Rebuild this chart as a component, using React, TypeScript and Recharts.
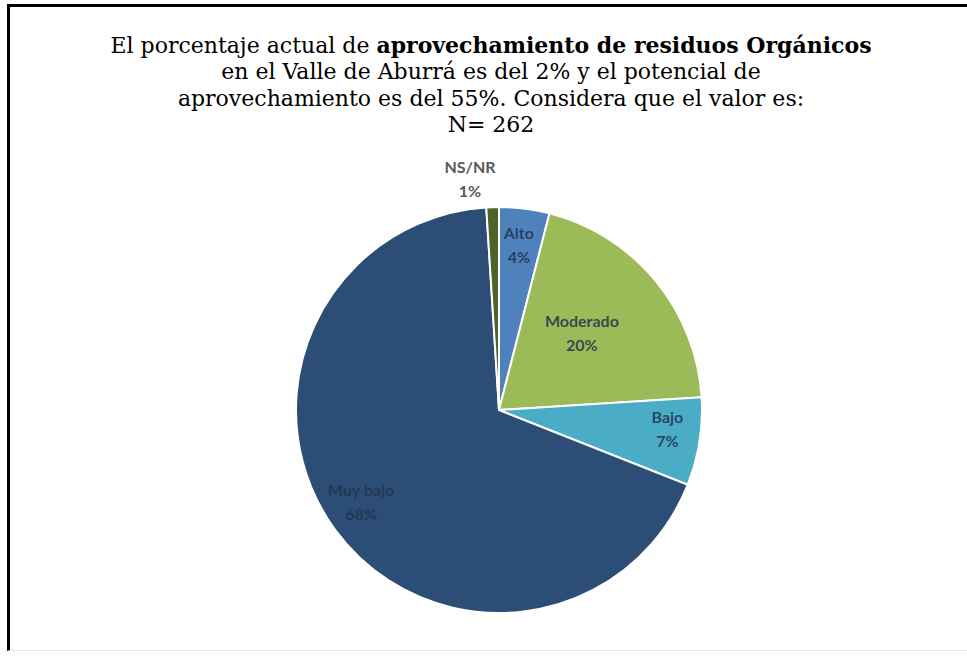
import { PieChart, Pie, Cell } from "recharts";

const categories = ["Alto", "Moderado", "Bajo", "Muy bajo", "NS/NR"];
const percentages = [4, 20, 7, 68, 1];
const colors = ["#4F81BD", "#9BBB59", "#4BACC6", "#2C4D75", "#4F6228"];

const titleLines = [
  ["El porcentaje actual de ", "aprovechamiento de residuos Orgánicos"],
  ["en el Valle de Aburrá es del 2% y el potencial de", ""],
  ["aprovechamiento es del 55%. Considera que el valor es:", ""],
  ["N= 262", ""],
];

const data = categories.map((name, i) => ({ name, value: percentages[i] }));

const RADIAN = Math.PI / 180;
// distance of each label from the centre, as a share of the radius
const labelDist: Record<string, number> = {
  Alto: 0.78,
  Moderado: 0.53,
  Bajo: 0.84,
  "Muy bajo": 0.84,
  "NS/NR": 1.1,
};
// sideways nudge for the outside label
const labelShiftX: Record<string, number> = { "NS/NR": -22 };

const renderLabel = (props: any) => {
  const { cx, cy, midAngle, outerRadius, name, value } = props;
  const r = outerRadius * (labelDist[name] ?? 0.7);
  const x = cx + r * Math.cos(-midAngle * RADIAN) + (labelShiftX[name] ?? 0);
  const y = cy + r * Math.sin(-midAngle * RADIAN);
  const outside = name === "NS/NR";
  return (
    <text
      x={x}
      y={y}
      textAnchor="middle"
      fontFamily="Lato, 'Open Sans', sans-serif"
      fontWeight={700}
      fontSize={16}
      fill={outside ? "#595959" : "#1F3550"}
      fillOpacity={outside ? 1 : 0.85}
    >
      <tspan x={x} dy={-14}>
        {name}
      </tspan>
      <tspan x={x} dy={24}>
        {value}%
      </tspan>
    </text>
  );
};

export default function App() {
  return (
    <div
      style={{
        position: "absolute",
        left: 0,
        top: 0,
        width: 967,
        height: 660,
        background: "#fff",
      }}
    >
      <div
        style={{
          position: "absolute",
          left: 7,
          top: 4,
          right: 0,
          bottom: 9,
          borderTop: "3px solid #000",
          borderLeft: "3px solid #000",
          borderBottom: "1px solid #e6e6e6",
        }}
      />
      <div
        style={{
          position: "absolute",
          left: 0,
          top: 32,
          width: 982,
          textAlign: "center",
          fontFamily: "'DejaVu Serif', 'Liberation Serif', serif",
          fontSize: 22,
          lineHeight: "26.3px",
          color: "#000",
        }}
      >
        {titleLines.map(([plain, bold], i) => (
          <div key={i}>
            {plain}
            {bold && <b>{bold}</b>}
          </div>
        ))}
      </div>
      <PieChart width={967} height={660} style={{ position: "absolute", left: 0, top: 0 }}>
        <Pie
          data={data}
          dataKey="value"
          nameKey="name"
          cx={494}
          cy={405}
          outerRadius={203}
          startAngle={90}
          endAngle={-270}
          stroke="#fff"
          strokeWidth={2}
          label={renderLabel}
          labelLine={false}
          isAnimationActive={false}
        >
          {data.map((d, i) => (
            <Cell key={d.name} fill={colors[i]} />
          ))}
        </Pie>
      </PieChart>
    </div>
  );
}
